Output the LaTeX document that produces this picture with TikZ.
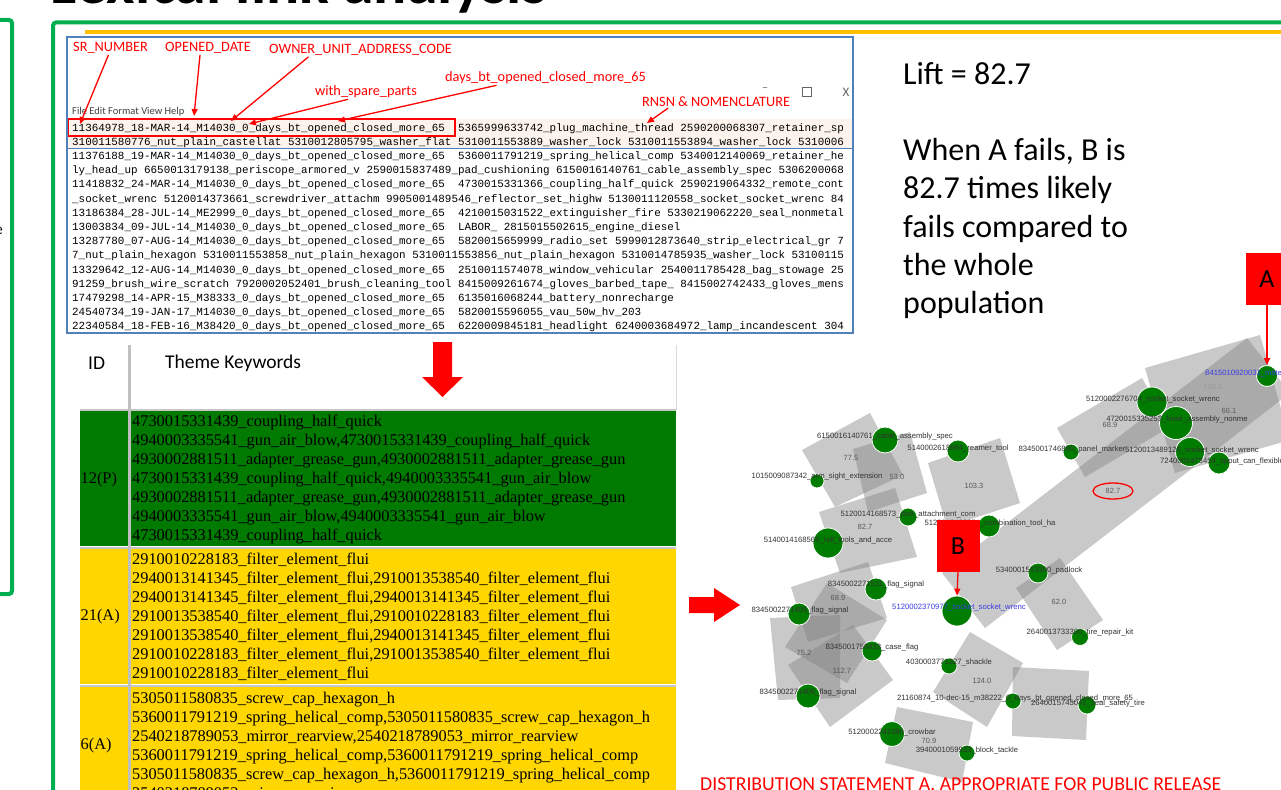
\documentclass[tikz,border=0pt]{standalone}
\usepackage{fontspec}
\setmainfont{Carlito}
\newfontfamily\monofont{Liberation Mono}
\newfontfamily\tabfont{Liberation Serif}
\newfontfamily\graphfont{Liberation Sans}
\usetikzlibrary{calc}
\usetikzlibrary{arrows.meta}
\definecolor{framegreen}{RGB}{0,176,80}
\definecolor{lineorange}{RGB}{255,192,0}
\definecolor{winblue}{RGB}{79,129,189}
\definecolor{selpeach}{RGB}{252,244,236}
\definecolor{rowgreen}{RGB}{0,122,0}
\definecolor{rowyellow}{RGB}{255,214,0}
\definecolor{gnodegreen}{RGB}{0,125,0}
\definecolor{labblue}{RGB}{60,60,230}
\tikzstyle{gnode}=[circle,fill=gnodegreen,draw=white,line width=0.8pt,inner sep=0pt]
\tikzstyle{glabel}=[font=\graphfont\fontsize{7.7}{8}\selectfont,text=black!80,inner sep=0pt]
\tikzstyle{gnum}=[font=\graphfont\fontsize{7.5}{8}\selectfont,text=black!65,inner sep=0pt]
\tikzstyle{grect}=[fill=gray,fill opacity=0.42]
\tikzstyle{wintext}=[font=\monofont\fontsize{10.9}{12}\selectfont,inner sep=0pt,anchor=west]
\tikzstyle{winlabel}=[font=\fontsize{14.3}{15}\selectfont,text=red,inner sep=0pt,anchor=west]
\tikzstyle{redarrow}=[red,line width=1.3pt,-{Triangle[length=7pt,width=6pt]}]
\tikzstyle{rowtext}=[font=\tabfont\fontsize{16.35}{19}\selectfont,align=left,inner sep=0pt,anchor=west]
\tikzstyle{rowid}=[font=\tabfont\fontsize{16.35}{19}\selectfont,inner sep=0pt,anchor=west]
\tikzstyle{note}=[anchor=base west,inner sep=0pt,font=\fontsize{32}{38}\selectfont]
\tikzstyle{redbox}=[fill=red,minimum width=43pt,minimum height=52pt,inner sep=0pt,font=\fontsize{26}{26}\selectfont]

\begin{document}
\catcode`\_=12
\begin{tikzpicture}[x=1pt,y=-1pt]
\useasboundingbox (0,0) rectangle (1281,789);
\fill[white] (0,0) rectangle (1281,789);

% title and frames
\node[anchor=base west,inner sep=0pt,font=\bfseries\fontsize{62}{62}\selectfont] (title) at (50,3.5) {Lexical link analysis};
\draw[framegreen,line width=4pt,rounded corners=3pt] (-30,20) rectangle (12,594);
\node[anchor=east,inner sep=0pt,font=\fontsize{15}{15}\selectfont] (cutchar) at (3,231) {e};
\draw[framegreen,line width=4pt,rounded corners=3pt] (53,22.5) rectangle (1320,830);
\draw[lineorange,line width=4pt] (85,32.5) -- (1290,32.5);

% text window
\fill[selpeach] (67,119) rectangle (853,148);
\draw[winblue,line width=1pt] (67,148.5) -- (853,148.5);
\begin{scope}
\clip (67,37) rectangle (853,333);
\foreach \ln [count=\i] in {
11364978_18-MAR-14_M14030_0_days_bt_opened_closed_more_65~~5365999633742_plug_machine_thread 2590200068307_retainer_sp,
310011580776_nut_plain_castellat 5310012805795_washer_flat 5310011553889_washer_lock 5310011553894_washer_lock 5310006,
11376188_19-MAR-14_M14030_0_days_bt_opened_closed_more_65~~5360011791219_spring_helical_comp 5340012140069_retainer_he,
ly_head_up 6650013179138_periscope_armored_v 2590015837489_pad_cushioning 6150016140761_cable_assembly_spec 5306200068,
11418832_24-MAR-14_M14030_0_days_bt_opened_closed_more_65~~4730015331366_coupling_half_quick 2590219064332_remote_cont,
_socket_wrenc 5120014373661_screwdriver_attachm 9905001489546_reflector_set_highw 5130011120558_socket_socket_wrenc 84,
13186384_28-JUL-14_ME2999_0_days_bt_opened_closed_more_65~~4210015031522_extinguisher_fire 5330219062220_seal_nonmetal,
13003834_09-JUL-14_M14030_0_days_bt_opened_closed_more_65~~LABOR_ 2815015502615_engine_diesel,
13287780_07-AUG-14_M14030_0_days_bt_opened_closed_more_65~~5820015659999_radio_set 5999012873640_strip_electrical_gr 7,
7_nut_plain_hexagon 5310011553858_nut_plain_hexagon 5310011553856_nut_plain_hexagon 5310014785935_washer_lock 53100115,
13329642_12-AUG-14_M14030_0_days_bt_opened_closed_more_65~~2510011574078_window_vehicular 2540011785428_bag_stowage 25,
91259_brush_wire_scratch 7920002052401_brush_cleaning_tool 8415009261674_gloves_barbed_tape_ 8415002742433_gloves_mens,
17479298_14-APR-15_M38333_0_days_bt_opened_closed_more_65~~6135016068244_battery_nonrecharge,
24540734_19-JAN-17_M14030_0_days_bt_opened_closed_more_65~~5820015596055_vau_50w_hv_203,
22340584_18-FEB-16_M38420_0_days_bt_opened_closed_more_65~~6220009845181_headlight 6240003684972_lamp_incandescent 304}
  \node[wintext] (win\i) at (72,{128.3+14.2*(\i-1)}) {\ln};
\end{scope}
\draw[red,line width=1.2pt] (68,119) rectangle (455,136);
\draw[winblue,line width=2pt] (67,37) rectangle (853,333);
\node[anchor=west,inner sep=0pt,font=\fontsize{10.5}{11}\selectfont,text=black!75] (menu) at (72,112) {File Edit Format View Help};
\node[inner sep=0pt,font=\fontsize{12}{12}\selectfont,text=black!60] (wmin) at (765,90) {--};
\node[draw=black!60,line width=0.8pt,minimum size=9pt,inner sep=0pt] (wmax) at (807,92) {};
\node[inner sep=0pt,font=\fontsize{13}{13}\selectfont,text=black!60] (wclose) at (846,92) {X};

% field labels
\node[winlabel] (srlab) at (73,48) {SR_NUMBER};
\node[winlabel] (datelab) at (165,48) {OPENED_DATE};
\node[winlabel] (ownlab) at (269,50) {OWNER_UNIT_ADDRESS_CODE};
\node[winlabel] (dayslab) at (445,78) {days_bt_opened_closed_more_65};
\node[winlabel] (sparelab) at (315,92) {with_spare_parts};
\node[winlabel] (rnsnlab) at (642,102) {RNSN \& NOMENCLATURE};
\coordinate (srtip) at (80,124);
\coordinate (datetip) at (194,116);
\coordinate (owntip) at (231,121);
\coordinate (sparetip) at (249,124);
\coordinate (daystip) at (338,121);
\coordinate (rnsntip) at (647,123);
\draw[redarrow] ($(srlab.south)+(-2,1)$) -- (srtip);
\draw[redarrow] ($(datelab.south)+(-8,1)$) -- (datetip);
\draw[redarrow] ($(ownlab.south)+(-52,1)$) -- (owntip);
\draw[redarrow] ($(sparelab.south)+(-18,1)$) -- (sparetip);
\draw[redarrow] ($(dayslab.south)+(-49,1)$) -- (daystip);
\draw[redarrow] ($(rnsnlab.south)+(-48,1)$) -- (rnsntip);

% theme table
\fill[rowgreen] (80,411) rectangle (676,546);
\fill[rowyellow] (80,549) rectangle (676,684);
\fill[rowyellow] (80,687) rectangle (676,800);
\draw[gray!45,line width=2pt] (80,410) -- (676,410);
\draw[gray!45,line width=2pt] (80,547.5) -- (676,547.5);
\draw[gray!45,line width=2pt] (80,685.5) -- (676,685.5);
\draw[gray!50,line width=2.5pt] (129.5,345) -- (129.5,800);
\draw[gray!30,line width=1pt] (676,345) -- (676,410);
\node[anchor=west,inner sep=0pt,font=\fontsize{19.5}{20}\selectfont] (hid) at (88,363) {ID};
\node[anchor=west,inner sep=0pt,font=\fontsize{19.5}{20}\selectfont] (hkey) at (165,363) {Theme Keywords};
\node[rowid] (id1) at (80.5,480) {12(P)};
\node[rowtext] (row1) at (132,480) {4730015331439_coupling_half_quick\\
4940003335541_gun_air_blow,4730015331439_coupling_half_quick\\
4930002881511_adapter_grease_gun,4930002881511_adapter_grease_gun\\
4730015331439_coupling_half_quick,4940003335541_gun_air_blow\\
4930002881511_adapter_grease_gun,4930002881511_adapter_grease_gun\\
4940003335541_gun_air_blow,4940003335541_gun_air_blow\\
4730015331439_coupling_half_quick};
\node[rowid] (id2) at (80.5,617) {21(A)};
\node[rowtext] (row2) at (132,617) {2910010228183_filter_element_flui\\
2940013141345_filter_element_flui,2910013538540_filter_element_flui\\
2940013141345_filter_element_flui,2940013141345_filter_element_flui\\
2910013538540_filter_element_flui,2910010228183_filter_element_flui\\
2910013538540_filter_element_flui,2940013141345_filter_element_flui\\
2910010228183_filter_element_flui,2910013538540_filter_element_flui\\
2910010228183_filter_element_flui};
\node[rowid] (id3) at (80.5,746) {6(A)};
\node[rowtext] (row3) at (132,746) {5305011580835_screw_cap_hexagon_h\\
5360011791219_spring_helical_comp,5305011580835_screw_cap_hexagon_h\\
2540218789053_mirror_rearview,2540218789053_mirror_rearview\\
5360011791219_spring_helical_comp,5360011791219_spring_helical_comp\\
5305011580835_screw_cap_hexagon_h,5360011791219_spring_helical_comp\\
2540218789053_mirror_rearview};

% block arrows
\fill[red] (433,342) -- (452,342) -- (452,377) -- (463,377) -- (442.5,397) -- (422,377) -- (433,377) -- cycle;
\fill[red] (689,597) -- (714,597) -- (714,588) -- (740,605) -- (714,622) -- (714,613) -- (689,613) -- cycle;

% lift note
\node[note] (lift) at (903,85) {Lift = 82.7};
\node[note] (when1) at (903,160) {When A fails, B is};
\node[note] (when2) at (903,198) {82.7 times likely};
\node[note] (when3) at (903,237) {fails compared to};
\node[note] (when4) at (903,275) {the whole};
\node[note] (when5) at (903,313) {population};

% grey cluster boxes
\fill[grect] (802,450) -- (870,413) -- (903,475) -- (835,507) -- cycle;
\fill[grect] (853,449) -- (910,432) -- (927,493) -- (868,512) -- cycle;
\fill[grect] (928,463) -- (1000,438) -- (1020,503) -- (947,527) -- cycle;
\fill[grect] (819,512) -- (895,488) -- (917,557) -- (840,573) -- cycle;
\fill[grect] (791,587) -- (868,562) -- (887,618) -- (808,642) -- cycle;
\fill[grect] (785,647) -- (827,583) -- (887,620) -- (847,683) -- cycle;
\fill[grect] (770,618) -- (840,615) -- (840,698) -- (778,700) -- cycle;
\fill[grect] (788,665) -- (853,625) -- (893,680) -- (830,727) -- cycle;
\fill[grect] (897,707) -- (973,722) -- (962,782) -- (885,763) -- cycle;
\fill[grect] (933,692) -- (970,632) -- (1023,663) -- (987,727) -- cycle;
\fill[grect] (985,628) -- (1290,393) -- (1247,338) -- (942,573) -- cycle;
\fill[grect] (1016,588) -- (1060,558) -- (1103,620) -- (1057,650) -- cycle;
\fill[grect] (1013,667) -- (1089,671) -- (1086,740) -- (1012,736) -- cycle;
\fill[grect] (1057,428) -- (1142,378) -- (1170,427) -- (1085,477) -- cycle;
\fill[grect] (1145,368) -- (1260,335) -- (1290,440) -- (1175,473) -- cycle;

% vertices
\node[gnode,minimum size=21] (nA) at (1267,376) {};
\node[gnode,minimum size=30] (nS1) at (1152,402) {};
\node[gnode,minimum size=33] (nH) at (1176,423) {};
\node[gnode,minimum size=29] (nS2) at (1190,452) {};
\node[gnode,minimum size=16] (nP) at (1071,452) {};
\node[gnode,minimum size=22] (nSp) at (1219,463) {};
\node[gnode,minimum size=26] (nCa) at (885,440) {};
\node[gnode,minimum size=22] (nR) at (958,451) {};
\node[gnode,minimum size=14] (nArm) at (817,481) {};
\node[gnode,minimum size=18] (nPick) at (908,517) {};
\node[gnode,minimum size=22] (nComb) at (989,526) {};
\node[gnode,minimum size=30] (nRoll) at (828,543) {};
\node[gnode,minimum size=22] (nF1) at (876,589) {};
\node[gnode,minimum size=22] (nF2) at (799,614) {};
\node[gnode,minimum size=20] (nCase) at (872,651) {};
\node[gnode,minimum size=24] (nF3) at (808,696) {};
\node[gnode,minimum size=25] (nCrow) at (892,734) {};
\node[gnode,minimum size=16] (nBlock) at (967,753) {};
\node[gnode,minimum size=30] (nB) at (957,611) {};
\node[gnode,minimum size=16] (nShk) at (949,666) {};
\node[gnode,minimum size=16] (nDay) at (1013,701) {};
\node[gnode,minimum size=20] (nPad) at (1038,573) {};
\node[gnode,minimum size=17] (nTire) at (1080,637) {};
\node[gnode,minimum size=18] (nSeal) at (1087,705) {};

% vertex labels
\node[glabel,text=labblue,anchor=west] (lA) at (1205,373) {8415010920031_mitten};
\node[glabel] (lS1) at (1153,399) {5120002276704_socket_socket_wrenc};
\node[glabel] (lH) at (1177,420) {4720015335253_hose_assembly_nonme};
\node[glabel,anchor=west] (lS2) at (1125,450) {5120013489126_socket_socket_wrenc};
\node[glabel] (lP) at (1072,450) {8345001746895_panel_marker};
\node[glabel,anchor=west] (lSp) at (1160,462) {7240001473454_spout_can_flexible};
\node[glabel] (lCa) at (885,437) {6150016140761_cable_assembly_spec};
\node[glabel] (lR) at (958,448) {5140002618994_reamer_tool};
\node[glabel] (lArm) at (817,477) {1015009087342_arm_sight_extension};
\node[glabel] (lPick) at (908,515) {5120014168573_pick_attachment_com};
\node[glabel] (lComb) at (990,523) {5120012409954_combination_tool_ha};
\node[glabel] (lRoll) at (828,540) {5140014168569_roll_tools_and_acce};
\node[glabel] (lF1) at (876,585) {8345002271511_flag_signal};
\node[glabel] (lF2) at (800,611) {8345002271405_flag_signal};
\node[glabel] (lCase) at (872,648) {8345001758433_case_flag};
\node[glabel] (lF3) at (808,693) {8345002271406_flag_signal};
\node[glabel] (lCrow) at (892,732) {5120002241390_crowbar};
\node[glabel] (lBlock) at (967,750) {3940001059933_block_tackle};
\node[glabel,text=labblue] (lB) at (959,607) {5120002370977_socket_socket_wrenc};
\node[glabel] (lShk) at (949,662) {4030003771327_shackle};
\node[glabel,anchor=west] (lDay) at (897,698) {21160874_10-dec-15_m38222_0_days_bt_opened_closed_more_65};
\node[glabel] (lPad) at (1039,571) {5340001563300_padlock};
\node[glabel] (lTire) at (1080,633) {2640013733300_tire_repair_kit};
\node[glabel] (lSeal) at (1088,703) {2640015745041_seal_safety_tire};

% lift values
\node[gnum,text=black!40] (v1) at (1213,387) {103.3};
\node[gnum] (v2) at (1229,411) {66.1};
\node[gnum] (v3) at (1110,425) {68.9};
\node[gnum] (v4) at (1113,491) {82.7};
\node[gnum] (v5) at (851,458) {77.5};
\node[gnum] (v6) at (897,477) {53.0};
\node[gnum] (v7) at (974,486) {103.3};
\node[gnum] (v8) at (865,527) {82.7};
\node[gnum] (v9) at (838,598) {68.9};
\node[gnum] (v10) at (804,653) {75.2};
\node[gnum] (v11) at (842,671) {112.7};
\node[gnum] (v12) at (982,681) {124.0};
\node[gnum] (v13) at (929,741) {70.9};
\node[gnum] (v14) at (1059,602) {62.0};
\draw[red,line width=1.3pt] (v4) ellipse (20 and 8);

% A and B markers
\node[redbox] (boxA) at (1267,279) {A};
\node[redbox] (boxB) at (958,546) {B};
\draw[redarrow] (boxA.south) -- (nA.north);
\draw[redarrow] (boxB.south) -- (nB.north);

% footer
\node[anchor=base west,inner sep=0pt,text=red,font=\fontsize{19.7}{20}\selectfont] (release) at (700,790) {DISTRIBUTION STATEMENT A. APPROPRIATE FOR PUBLIC RELEASE};

\end{tikzpicture}
\end{document}
